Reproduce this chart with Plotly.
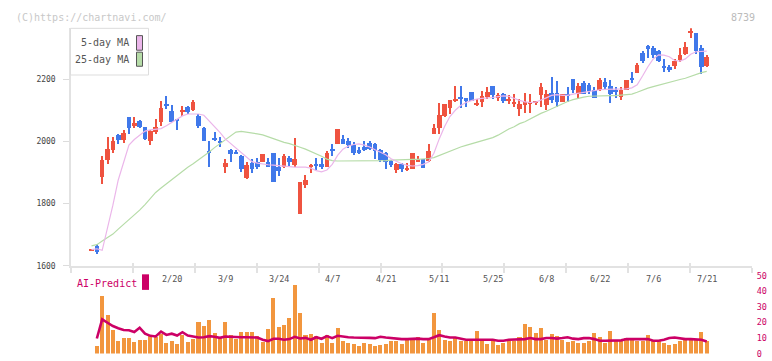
import plotly.graph_objects as go
import numpy as np

W, H = 772, 361

# ---------------- data ----------------
open_ = [1649,1662,1883,1939,1972,2020,2005,2076,2048,2063,
         2045,2001,2030,2060,2120,2098,2070,2096,2110,2101,
         2082,2041,1969,2011,2001,1917,1970,1961,1951,1882,
         1930,1934,1932,1934,1962,1917,1917,1946,1922,1767,
         1860,1917,1927,1927,1917,1975,1992,2007,2001,1986,
         1970,1982,1995,1992,1970,1961,1936,1907,1926,1907,
         1911,1933,1942,1936,2024,2042,2080,2107,2130,2142,
         2139,2158,2116,2126,2142,2176,2139,2151,2130,2122,
         2102,2117,2122,2124,2148,2116,2154,2154,2126,2151,
         2201,2151,2188,2179,2163,2164,2191,2176,2164,2141,
         2164,2201,2220,2283,2304,2298,2291,2239,2239,2241,
         2262,2279,2350,2348,2298,2242]
high = [1651,1668,1952,2014,2014,2024,2036,2076,2076,2069,
        2045,2037,2070,2129,2144,2116,2070,2113,2113,2132,
        2087,2044,2001,2029,2013,1942,1975,1972,1956,1933,
        1942,1944,1960,1944,1962,1946,1959,1952,2011,1867,
        1891,1927,1946,1946,1967,1992,2038,2020,2011,1997,
        1980,2001,2001,1993,1976,1966,1938,1930,1930,1928,
        1961,1953,1942,1992,2055,2122,2120,2132,2176,2176,
        2139,2158,2136,2160,2173,2176,2153,2154,2149,2152,
        2134,2154,2151,2130,2185,2163,2207,2194,2151,2173,
        2201,2186,2194,2188,2173,2204,2204,2196,2175,2173,
        2196,2223,2252,2289,2310,2306,2292,2264,2246,2264,
        2298,2317,2363,2348,2310,2275]
low = [1649,1636,1861,1927,1961,1992,1995,2024,2042,2042,
       2003,1988,2024,2050,2104,2060,2036,2082,2087,2098,
       2041,1999,1918,1999,1980,1896,1933,1958,1902,1878,
       1897,1911,1932,1917,1867,1888,1914,1916,1917,1767,
       1848,1896,1907,1911,1916,1951,1992,1992,1978,1955,
       1957,1967,1970,1941,1932,1911,1916,1897,1901,1905,
       1911,1932,1913,1932,2024,2024,2078,2088,2126,2107,
       2108,2130,2112,2110,2136,2136,2129,2123,2119,2110,
       2081,2089,2089,2116,2108,2100,2123,2110,2126,2126,
       2154,2136,2151,2152,2139,2160,2167,2121,2139,2133,
       2164,2188,2220,2250,2266,2266,2253,2223,2221,2230,
       2254,2275,2331,2281,2214,2239]
close = [1651,1643,1938,1976,1999,2005,2026,2042,2059,2046,
         2006,2031,2045,2107,2114,2060,2065,2098,2092,2126,
         2048,1999,1963,2006,1996,1930,1959,1959,1911,1922,
         1911,1917,1960,1917,1867,1905,1951,1932,1942,1867,
         1876,1923,1922,1917,1962,1970,2038,1992,1986,1961,
         1961,1970,1976,1967,1938,1932,1924,1926,1909,1913,
         1961,1942,1913,1967,2042,2084,2120,2132,2136,2138,
         2129,2130,2123,2145,2157,2147,2148,2130,2135,2126,
         2120,2126,2126,2129,2173,2151,2133,2126,2151,2145,
         2163,2176,2151,2160,2139,2196,2175,2152,2157,2164,
         2196,2197,2246,2258,2299,2277,2256,2236,2227,2258,
         2275,2302,2354,2289,2239,2270]

ma5 = [1652,1655,1650,1720,1795,1876,1935,1988,2006,2020,
       2033,2037,2038,2041,2050,2061,2070,2082,2088,2089,
       2088,2084,2066,2047,2029,2008,1993,1980,1965,1947,
       1935,1930,1927,1925,1924,1922,1920,1918,1917,1917,
       1917,1914,1906,1902,1908,1926,1955,1975,1985,1990,
       1992,1988,1982,1973,1966,1957,1944,1936,1928,1923,
       1921,1922,1926,1934,1962,2008,2048,2080,2100,2115,
       2125,2131,2136,2138,2139,2141,2144,2146,2145,2138,
       2132,2127,2125,2126,2132,2140,2148,2150,2148,2148,
       2152,2155,2158,2162,2165,2166,2167,2167,2167,2168,
       2169,2172,2182,2210,2240,2265,2278,2277,2272,2260,
       2258,2265,2280,2288,2290,2290]
ma25 = [1664,1668,1680,1690,1702,1718,1733,1748,1764,1779,
        1797,1818,1836,1850,1864,1878,1892,1906,1917,1928,
        1940,1953,1966,1980,1993,2006,2020,2030,2032,2030,
        2027,2024,2021,2015,2008,2001,1997,1993,1986,1981,
        1975,1968,1960,1952,1943,1938,1937,1937,1937,1937,
        1937,1936,1936,1936,1937,1938,1940,1941,1942,1942,
        1942,1942,1943,1945,1948,1955,1963,1969,1975,1982,
        1987,1992,1997,2001,2006,2012,2020,2030,2040,2047,
        2057,2063,2072,2082,2090,2097,2105,2114,2121,2128,
        2134,2139,2142,2145,2146,2147,2147,2147,2147,2148,
        2149,2152,2158,2165,2171,2176,2181,2186,2191,2195,
        2199,2203,2209,2216,2221,2225]

volume = [None,
          8.3, 58.3, 39, 24, 13, 16, 16, 12, 14, 14,
          19, 17, 20, 11, 13, 10, 19, 12, 15, 32,
          28, 34, 21, 17, 32, 19, 15, 22, 22, 22,
          18, 12, 25, 57, 27, 29, 36, 70, 41, 19,
          20, 18, 11, 19, 11, 26, 13, 11, 10, 8,
          11, 10, 8, 9, 10, 13, 13, 10, 15, 14,
          17, 11, 14, 41, 24, 14, 13, 16, 13, 13,
          13, 23, 15, 10, 13, 9, 11, 13, 13, 17,
          30, 27, 21, 26, 14, 20, 18, 14, 12, 13,
          11, 11, 13, 21, 17, 11, 23, 13, 13, 16,
          14, 13, 13, 19, 13, 13, 11, 9, 10, 13,
          15, 14, 14, 22, 13]
ai_predict = [None,
              9.7, 22, 19.8, 17.7, 16.3, 15.2, 15, 13.9, 16.6, 12.8,
              11.4, 11, 14.1, 12, 12.8, 11.6, 13.7, 11.6, 11, 10.3,
              10.5, 11.2, 10.8, 10.1, 11, 10.8, 10.3, 10.5, 10.5, 10.5,
              10.3, 8.9, 8, 9.5, 9.5, 8.9, 9.3, 10.8, 9.7, 10.1,
              8.9, 10.5, 9.5, 11.2, 9.9, 11.4, 10.8, 10.5, 10.3, 10.3,
              10.5, 10.1, 9.9, 10.8, 10.3, 9.9, 9.3, 9.3, 9.3, 9.6,
              9.6, 9.3, 9.3, 10.5, 11.8, 11, 10.3, 10.3, 9.6, 8.9,
              8.9, 8.9, 9.3, 9.3, 8.9, 8.2, 8.2, 8.9, 8.9, 8.9,
              9.3, 10, 9.3, 9.3, 10, 10, 9.6, 10, 10.5, 9.6,
              9.3, 9.9, 10, 9.3, 8.2, 8.2, 8.2, 8.2, 8.5, 9.3,
              9.3, 8.9, 9.3, 9.3, 8.2, 8.2, 8.9, 10, 10.3, 9.6,
              9.3, 9.3, 9.3, 8.9, 7.8]

date_labels = ["2/20", "3/9", "3/24", "4/7", "4/21", "5/11",
               "5/25", "6/8", "6/22", "7/6", "7/21"]
label_idx = [15, 25, 35, 45, 55, 65, 75, 85, 95, 105, 115]
price_ticks = [1600, 1800, 2000, 2200]
ai_ticks = [0, 10, 20, 30, 40, 50]

n = len(close)
assert all(len(a) == n for a in (open_, high, low, ma5, ma25, volume, ai_predict))
idx = list(range(n))

# ---------------- styling ----------------
RED = "#ef5340"
BLUE = "#4078ea"
ORANGE = "#f2963e"
MAG = "#cc0066"
PINK = "#ebb6ea"
GREEN = "#b6dca8"
FONT = "DejaVu Sans Mono"
XR = [-3.83, 123.46]


def px(x):
    return x / W


def py(y):
    return 1 - y / H


up = [c >= o for o, c in zip(open_, close)]
cols = [RED if u else BLUE for u in up]
body_base = [min(o, c) for o, c in zip(open_, close)]
body_h = [max(abs(c - o), 4) for o, c in zip(open_, close)]
wick_h = [hi - lo for hi, lo in zip(high, low)]

fig = go.Figure()
fig.add_trace(go.Scatter(x=idx, y=ma25, mode="lines", line=dict(color=GREEN, width=1.2),
                         xaxis="x", yaxis="y", hoverinfo="skip"))
fig.add_trace(go.Scatter(x=idx, y=ma5, mode="lines", line=dict(color=PINK, width=1.2),
                         xaxis="x", yaxis="y", hoverinfo="skip"))
fig.add_trace(go.Bar(x=idx, y=wick_h, base=low, width=0.2, marker=dict(color=cols, line=dict(width=0)),
                     xaxis="x", yaxis="y"))
fig.add_trace(go.Bar(x=idx, y=body_h, base=body_base, width=0.86, marker=dict(color=cols, line=dict(width=0)),
                     xaxis="x", yaxis="y"))

fig.add_trace(go.Bar(x=idx, y=volume, width=0.75, marker=dict(color=ORANGE, line=dict(width=0)),
                     xaxis="x2", yaxis="y2"))
fig.add_trace(go.Scatter(x=idx, y=ai_predict, mode="lines", line=dict(color=MAG, width=2.6),
                         xaxis="x2", yaxis="y3", connectgaps=False))

xdom = [px(71), px(752)]
tickpos = list(np.linspace(XR[0] + 1e-6, XR[1] - 1e-6, 12))

fig.update_layout(
    width=W, height=H,
    margin=dict(l=0, r=0, t=0, b=0),
    paper_bgcolor="white", plot_bgcolor="white",
    showlegend=False, barmode="overlay", bargap=0,
    xaxis=dict(domain=xdom, range=XR, anchor="y", showgrid=False, zeroline=False,
               showline=True, linecolor="#e2e2e2", linewidth=2,
               tickvals=tickpos, ticks="outside", ticklen=5, tickwidth=1.5, tickcolor="#e2e2e2",
               showticklabels=False),
    xaxis3=dict(domain=xdom, range=XR, anchor="y", overlaying="x", showgrid=False, zeroline=False,
                showline=False, tickvals=tickpos, ticks="inside", ticklen=3, tickwidth=1.5,
                tickcolor="#e2e2e2", showticklabels=False),
    yaxis=dict(domain=[py(268.3), py(24)], range=[1600, 2363.3], anchor="x", showgrid=False,
               zeroline=False, showline=True, linecolor="#e2e2e2", linewidth=1.5,
               tickvals=price_ticks, ticks="outside", ticklen=6, tickcolor="#dcdcdc", tickwidth=1,
               tickfont=dict(family=FONT, size=8, color="#444"), ticklabelstandoff=6),
    xaxis2=dict(domain=xdom, range=XR, anchor="y2", visible=False),
    yaxis2=dict(domain=[py(358.5), py(278.5)], range=[0, 79], anchor="x2", visible=False),
    yaxis3=dict(domain=[py(358.5), py(278.5)], range=[0, 50], anchor="x2", overlaying="y2",
                side="right", showgrid=False, zeroline=False, showline=False,
                tickvals=ai_ticks, ticks="outside", ticklen=2, tickcolor="rgba(0,0,0,0)",
                tickfont=dict(family=FONT, size=8.5, color=MAG)),
)
# dummy trace to make xaxis3 render
fig.add_trace(go.Scatter(x=[XR[0]], y=[1600], xaxis="x3", yaxis="y", mode="markers",
                         marker=dict(opacity=0), hoverinfo="skip"))

ann = []
for i, lab in zip(label_idx, date_labels):
    ann.append(dict(x=i, y=py(282), xref="x", yref="paper", text=lab, showarrow=False,
                    xanchor="center", yanchor="middle", font=dict(family=FONT, size=8.5, color="#555")))
ann += [
    dict(x=px(14), y=py(12.7), xref="paper", yref="paper", text="(C)https://chartnavi.com/",
         showarrow=False, xanchor="left", yanchor="middle", font=dict(family=FONT, size=10, color="#c8c8c8")),
    dict(x=px(757), y=py(12.5), xref="paper", yref="paper", text="8739",
         showarrow=False, xanchor="right", yanchor="middle", font=dict(family=FONT, size=10, color="#bbbbbb")),
    dict(x=px(131), y=py(39), xref="paper", yref="paper", text="5-day MA",
         showarrow=False, xanchor="right", yanchor="middle", font=dict(family=FONT, size=10, color="#555")),
    dict(x=px(131), y=py(56), xref="paper", yref="paper", text="25-day MA",
         showarrow=False, xanchor="right", yanchor="middle", font=dict(family=FONT, size=10, color="#555")),
    dict(x=px(75), y=py(286), xref="paper", yref="paper", text="AI-Predict",
         showarrow=False, xanchor="left", yanchor="middle", font=dict(family=FONT, size=10, color=MAG)),
]
shapes = [
    dict(type="rect", xref="paper", yref="paper", x0=px(70.5), x1=px(148.5), y0=py(72), y1=py(24),
         line=dict(color="#dddddd", width=1), fillcolor="white", layer="above"),
    dict(type="rect", xref="paper", yref="paper", x0=px(136.5), x1=px(142.5), y0=py(46.5), y1=py(31.5),
         line=dict(color="#555", width=1), fillcolor=PINK, layer="above"),
    dict(type="rect", xref="paper", yref="paper", x0=px(136.5), x1=px(142.5), y0=py(63), y1=py(48.5),
         line=dict(color="#555", width=1), fillcolor=GREEN, layer="above"),
    dict(type="rect", xref="paper", yref="paper", x0=px(142), x1=px(149), y0=py(293), y1=py(277),
         line=dict(width=0), fillcolor=MAG, layer="above"),
]
fig.update_layout(annotations=ann, shapes=shapes)

fig.write_html("out.html")
